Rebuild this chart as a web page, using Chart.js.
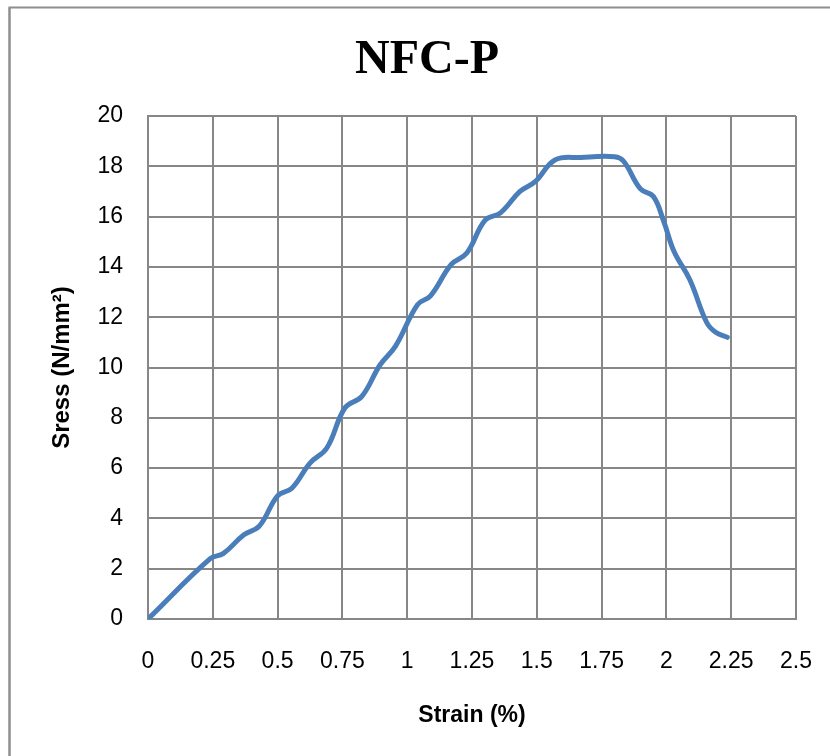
<!DOCTYPE html>
<html>
<head>
<meta charset="utf-8">
<style>
  html, body { margin: 0; padding: 0; background: #ffffff; }
  #wrap { width: 830px; height: 756px; }
</style>
<script src="https://cdn.jsdelivr.net/npm/chart.js@4"></script>
</head>
<body>
<div id="wrap"><canvas id="c" width="830" height="756"></canvas></div>
<script>
// Tensile test of NFC-P: strain (%) vs stress (N/mm²)
const strain = [0, 0.24, 0.29, 0.37, 0.43, 0.50, 0.555, 0.625, 0.69, 0.76, 0.825, 0.895, 0.955,
                1.04, 1.09, 1.17, 1.23, 1.30, 1.36, 1.435, 1.495, 1.57, 1.67, 1.80, 1.835,
                1.90, 1.95, 1.99, 2.03, 2.09, 2.155, 2.19, 2.235];
const stress = [0, 2.4, 2.6, 3.35, 3.7, 4.9, 5.2, 6.2, 6.8, 8.4, 8.85, 10.1, 10.85,
                12.5, 12.85, 14.1, 14.55, 15.85, 16.15, 17.0, 17.4, 18.25, 18.35, 18.38, 18.2,
                17.1, 16.8, 15.8, 14.6, 13.5, 11.8, 11.4, 11.2];

const xTickValues = [0, 0.25, 0.5, 0.75, 1, 1.25, 1.5, 1.75, 2, 2.25, 2.5];
const xTickLabels = ['0', '0.25', '0.5', '0.75', '1', '1.25', '1.5', '1.75', '2', '2.25', '2.5'];
const yTickValues = [0, 2, 4, 6, 8, 10, 12, 14, 16, 18, 20];
const yTickLabels = ['0', '2', '4', '6', '8', '10', '12', '14', '16', '18', '20'];

const chartTitle = 'NFC-P';
const xTitle = 'Strain (%)';
const yTitle = 'Sress (N/mm²)';

const gridColor = '#878787';
const lineColor = '#4a7ebb';
const sansFont = "'Liberation Sans', Arial, sans-serif";

// white page with a grey frame on its left and top edges
const framePlugin = {
  id: 'frame',
  beforeDraw(chart) {
    const ctx = chart.ctx;
    ctx.save();
    ctx.fillStyle = '#ffffff';
    ctx.fillRect(0, 0, chart.width, chart.height);
    ctx.strokeStyle = '#8e8e8e';
    ctx.lineWidth = 2.5;
    ctx.beginPath();
    ctx.moveTo(9.5, chart.height);
    ctx.lineTo(9.5, 7.5);
    ctx.stroke();
    ctx.lineWidth = 1.8;
    ctx.beginPath();
    ctx.moveTo(8.5, 7.5);
    ctx.lineTo(chart.width, 7.5);
    ctx.stroke();
    ctx.restore();
  }
};

// heading above the plot, centred on the page frame
const headingPlugin = {
  id: 'heading',
  afterDraw(chart) {
    const ctx = chart.ctx;
    ctx.save();
    ctx.fillStyle = '#000000';
    ctx.font = "bold 48px 'Liberation Serif', 'Times New Roman', serif";
    ctx.textAlign = 'center';
    ctx.textBaseline = 'alphabetic';
    ctx.fillText(chartTitle, 427, 73);
    ctx.restore();
  }
};

const points = strain.map((x, i) => ({ x: x, y: stress[i] }));

new Chart(document.getElementById('c'), {
  type: 'line',
  data: {
    datasets: [{
      data: points,
      borderColor: lineColor,
      borderWidth: 5,
      pointRadius: 0,
      tension: 0.4,
      fill: false,
      borderCapStyle: 'round',
      borderJoinStyle: 'round'
    }]
  },
  options: {
    responsive: false,
    animation: false,
    devicePixelRatio: 1,
    layout: { padding: { left: 0, right: 34, top: 116, bottom: 0 } },
    plugins: {
      legend: { display: false },
      tooltip: { enabled: false },
      title: { display: false }
    },
    scales: {
      x: {
        type: 'linear',
        min: 0,
        max: 2.5,
        afterBuildTicks(scale) { scale.ticks = xTickValues.map(v => ({ value: v })); },
        afterFit(scale) {
          scale.height = 137;
          scale.paddingLeft = 0;
          scale.paddingRight = 0;
        },
        ticks: {
          color: '#000000',
          font: { family: sansFont, size: 23 },
          padding: 29,
          maxRotation: 0,
          autoSkip: false,
          callback: (v) => xTickLabels[xTickValues.indexOf(v)]
        },
        grid: { color: gridColor, lineWidth: 2, drawTicks: false },
        border: { display: true, color: gridColor, width: 2 },
        title: {
          display: true,
          text: xTitle,
          color: '#000000',
          font: { family: sansFont, size: 23, weight: 'bold' },
          padding: { top: 0, bottom: 27 }
        }
      },
      y: {
        type: 'linear',
        min: 0,
        max: 20,
        afterBuildTicks(scale) { scale.ticks = yTickValues.map(v => ({ value: v })); },
        afterFit(scale) { scale.width = 148; },
        ticks: {
          color: '#000000',
          font: { family: sansFont, size: 23 },
          padding: 25,
          autoSkip: false,
          callback: (v) => yTickLabels[yTickValues.indexOf(v)]
        },
        grid: { color: gridColor, lineWidth: 2, drawTicks: false },
        border: { display: true, color: gridColor, width: 2 },
        title: {
          display: true,
          text: yTitle,
          color: '#000000',
          font: { family: sansFont, size: 24, weight: 'bold' },
          padding: { top: 48, bottom: 0 }
        }
      }
    }
  },
  plugins: [framePlugin, headingPlugin]
});
</script>
</body>
</html>
